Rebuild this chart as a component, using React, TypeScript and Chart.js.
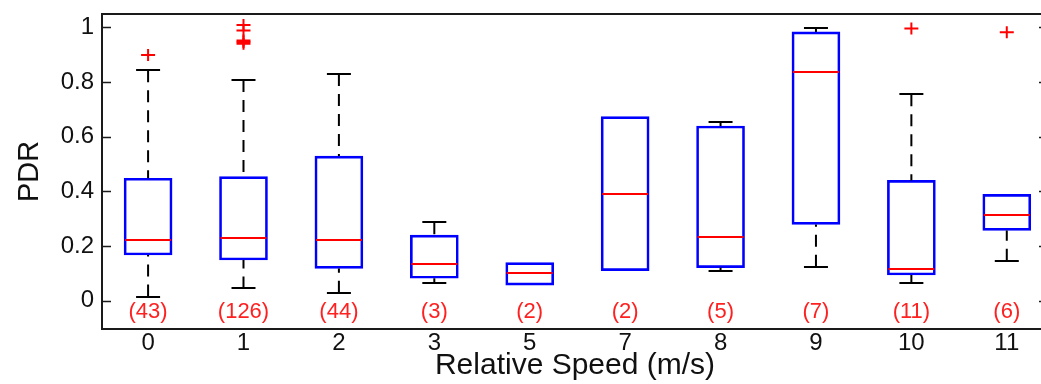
import React, { useEffect, useRef } from 'react';
import { Chart, registerables } from 'chart.js';

Chart.register(...registerables);

// ---- data ----
const categories = ['0', '1', '2', '3', '5', '7', '8', '9', '10', '11'];
const counts = [43, 126, 44, 3, 2, 2, 5, 7, 11, 6];
const whiskerLow = [0.015, 0.045, 0.029, 0.066, 0.057, 0.11, 0.11, 0.124, 0.066, 0.146];
const q1 = [0.167, 0.149, 0.118, 0.082, 0.057, 0.11, 0.121, 0.279, 0.094, 0.257];
const median = [0.222, 0.228, 0.222, 0.133, 0.102, 0.389, 0.234, 0.837, 0.117, 0.315];
const q3 = [0.448, 0.454, 0.529, 0.24, 0.139, 0.673, 0.639, 0.983, 0.44, 0.389];
const whiskerHigh = [0.843, 0.807, 0.829, 0.287, 0.139, 0.673, 0.654, 0.999, 0.755, 0.389];
const outliers: number[][] = [
  [0.899],
  [1.008, 0.988, 0.952, 0.946, 0.94],
  [],
  [],
  [],
  [],
  [],
  [],
  [0.996],
  [0.982],
];
const yTicks = [0, 0.2, 0.4, 0.6, 0.8, 1];
const countLabelY = -0.041;

const FONT = "'Liberation Sans', Arial, Helvetica, sans-serif";

const boxExtras = {
  id: 'boxExtras',
  afterDatasetsDraw(chart: any) {
    const { ctx, chartArea: a, scales } = chart;
    const x = scales.x;
    const y = scales.y;
    ctx.save();
    for (let i = 0; i < categories.length; i++) {
      const cx = x.getPixelForValue(i);
      // dashed whiskers
      ctx.strokeStyle = '#000';
      ctx.lineWidth = 2;
      ctx.setLineDash([12, 8]);
      if (whiskerHigh[i] > q3[i]) {
        ctx.beginPath();
        ctx.moveTo(cx, y.getPixelForValue(whiskerHigh[i]));
        ctx.lineTo(cx, y.getPixelForValue(q3[i]));
        ctx.stroke();
      }
      if (whiskerLow[i] < q1[i]) {
        ctx.beginPath();
        ctx.moveTo(cx, y.getPixelForValue(whiskerLow[i]));
        ctx.lineTo(cx, y.getPixelForValue(q1[i]));
        ctx.stroke();
      }
      ctx.setLineDash([]);
      // caps
      if (whiskerHigh[i] > q3[i]) {
        const py = Math.round(y.getPixelForValue(whiskerHigh[i]));
        ctx.beginPath();
        ctx.moveTo(cx - 12, py);
        ctx.lineTo(cx + 12, py);
        ctx.stroke();
      }
      if (whiskerLow[i] < q1[i]) {
        const py = Math.round(y.getPixelForValue(whiskerLow[i]));
        ctx.beginPath();
        ctx.moveTo(cx - 12, py);
        ctx.lineTo(cx + 12, py);
        ctx.stroke();
      }
      // median
      ctx.strokeStyle = '#ff0000';
      ctx.lineWidth = 2;
      const my = Math.round(y.getPixelForValue(median[i]));
      ctx.beginPath();
      ctx.moveTo(cx - 23, my);
      ctx.lineTo(cx + 23, my);
      ctx.stroke();
      // outliers
      for (const o of outliers[i]) {
        const oy = y.getPixelForValue(o);
        ctx.beginPath();
        ctx.moveTo(cx - 7, oy);
        ctx.lineTo(cx + 7, oy);
        ctx.moveTo(cx, oy - 6);
        ctx.lineTo(cx, oy + 6);
        ctx.stroke();
      }
      // counts
      ctx.fillStyle = '#ff2020';
      ctx.font = `22px ${FONT}`;
      ctx.textAlign = 'center';
      ctx.textBaseline = 'middle';
      ctx.fillText(`(${counts[i]})`, cx, y.getPixelForValue(countLabelY));
    }
    // frame
    ctx.strokeStyle = '#1a1a1a';
    ctx.lineWidth = 2;
    ctx.beginPath();
    ctx.moveTo(a.right, a.top);
    ctx.lineTo(a.left, a.top);
    ctx.lineTo(a.left, a.bottom);
    ctx.lineTo(a.right, a.bottom);
    ctx.lineTo(a.right, a.top);
    ctx.stroke();
    // inward y ticks (left and right)
    ctx.lineWidth = 1.5;
    for (const t of yTicks) {
      const ty = Math.round(y.getPixelForValue(t)) + 0.5;
      ctx.beginPath();
      ctx.moveTo(a.left, ty);
      ctx.lineTo(a.left + 9, ty);
      ctx.moveTo(a.right, ty);
      ctx.lineTo(a.right - 9, ty);
      ctx.stroke();
    }
    ctx.restore();
  },
};

export default function App() {
  const ref = useRef<HTMLCanvasElement | null>(null);

  useEffect(() => {
    if (!ref.current) return;
    const chart = new Chart(ref.current, {
      type: 'bar',
      data: {
        datasets: [
          {
            data: categories.map((_, i) => ({ x: i, y: [q1[i], q3[i]] })) as any,
            backgroundColor: 'rgba(255,255,255,0)',
            borderColor: '#0000ff',
            borderWidth: 2,
            borderSkipped: false,
            barThickness: 48,
          },
        ],
      },
      options: {
        animation: false,
        responsive: false,
        devicePixelRatio: 1,
        layout: { padding: { top: 14, right: 12, left: 0, bottom: 0 } },
        plugins: {
          legend: { display: false },
          tooltip: { enabled: false },
        },
        scales: {
          x: {
            type: 'linear',
            offset: false,
            min: -0.483,
            max: 9.432,
            grid: { display: false, drawTicks: false, offset: false },
            border: { display: false },
            afterBuildTicks: (scale: any) => {
              scale.ticks = categories.map((_, i) => ({ value: i }));
            },
            afterFit: (scale: any) => {
              scale.height = 55;
              scale.paddingLeft = 0;
              scale.paddingRight = 0;
            },
            ticks: {
              padding: 0,
              color: '#111',
              font: { family: FONT, size: 24 },
              callback: (v: any) => categories[v] ?? '',
              maxRotation: 0,
              autoSkip: false,
            },
            title: {
              display: true,
              text: 'Relative Speed (m/s)',
              color: '#111',
              font: { family: FONT, size: 30 },
              padding: { top: 0, bottom: 0 },
            },
          },
          y: {
            type: 'linear',
            min: -0.1035,
            max: 1.0486,
            grid: { display: false, drawTicks: false },
            border: { display: false },
            afterBuildTicks: (scale: any) => {
              scale.ticks = yTicks.map((v) => ({ value: v }));
            },
            afterFit: (scale: any) => {
              scale.width = 102;
              scale.paddingTop = 0;
              scale.paddingBottom = 0;
            },
            ticks: {
              padding: 8,
              color: '#111',
              font: { family: FONT, size: 24 },
              callback: (v: any) => String(v),
            },
            title: {
              display: true,
              text: 'PDR',
              color: '#111',
              font: { family: FONT, size: 29 },
              padding: { top: 13, bottom: 0 },
            },
          },
        },
      } as any,
      plugins: [boxExtras],
    });
    return () => chart.destroy();
  }, []);

  return (
    <div
      style={{
        position: 'absolute',
        left: 0,
        top: 0,
        width: 1041,
        height: 384,
        overflow: 'hidden',
        background: '#fff',
      }}
    >
      <canvas ref={ref} width={1060} height={384} style={{ display: 'block', width: 1060, height: 384 }} />
    </div>
  );
}
